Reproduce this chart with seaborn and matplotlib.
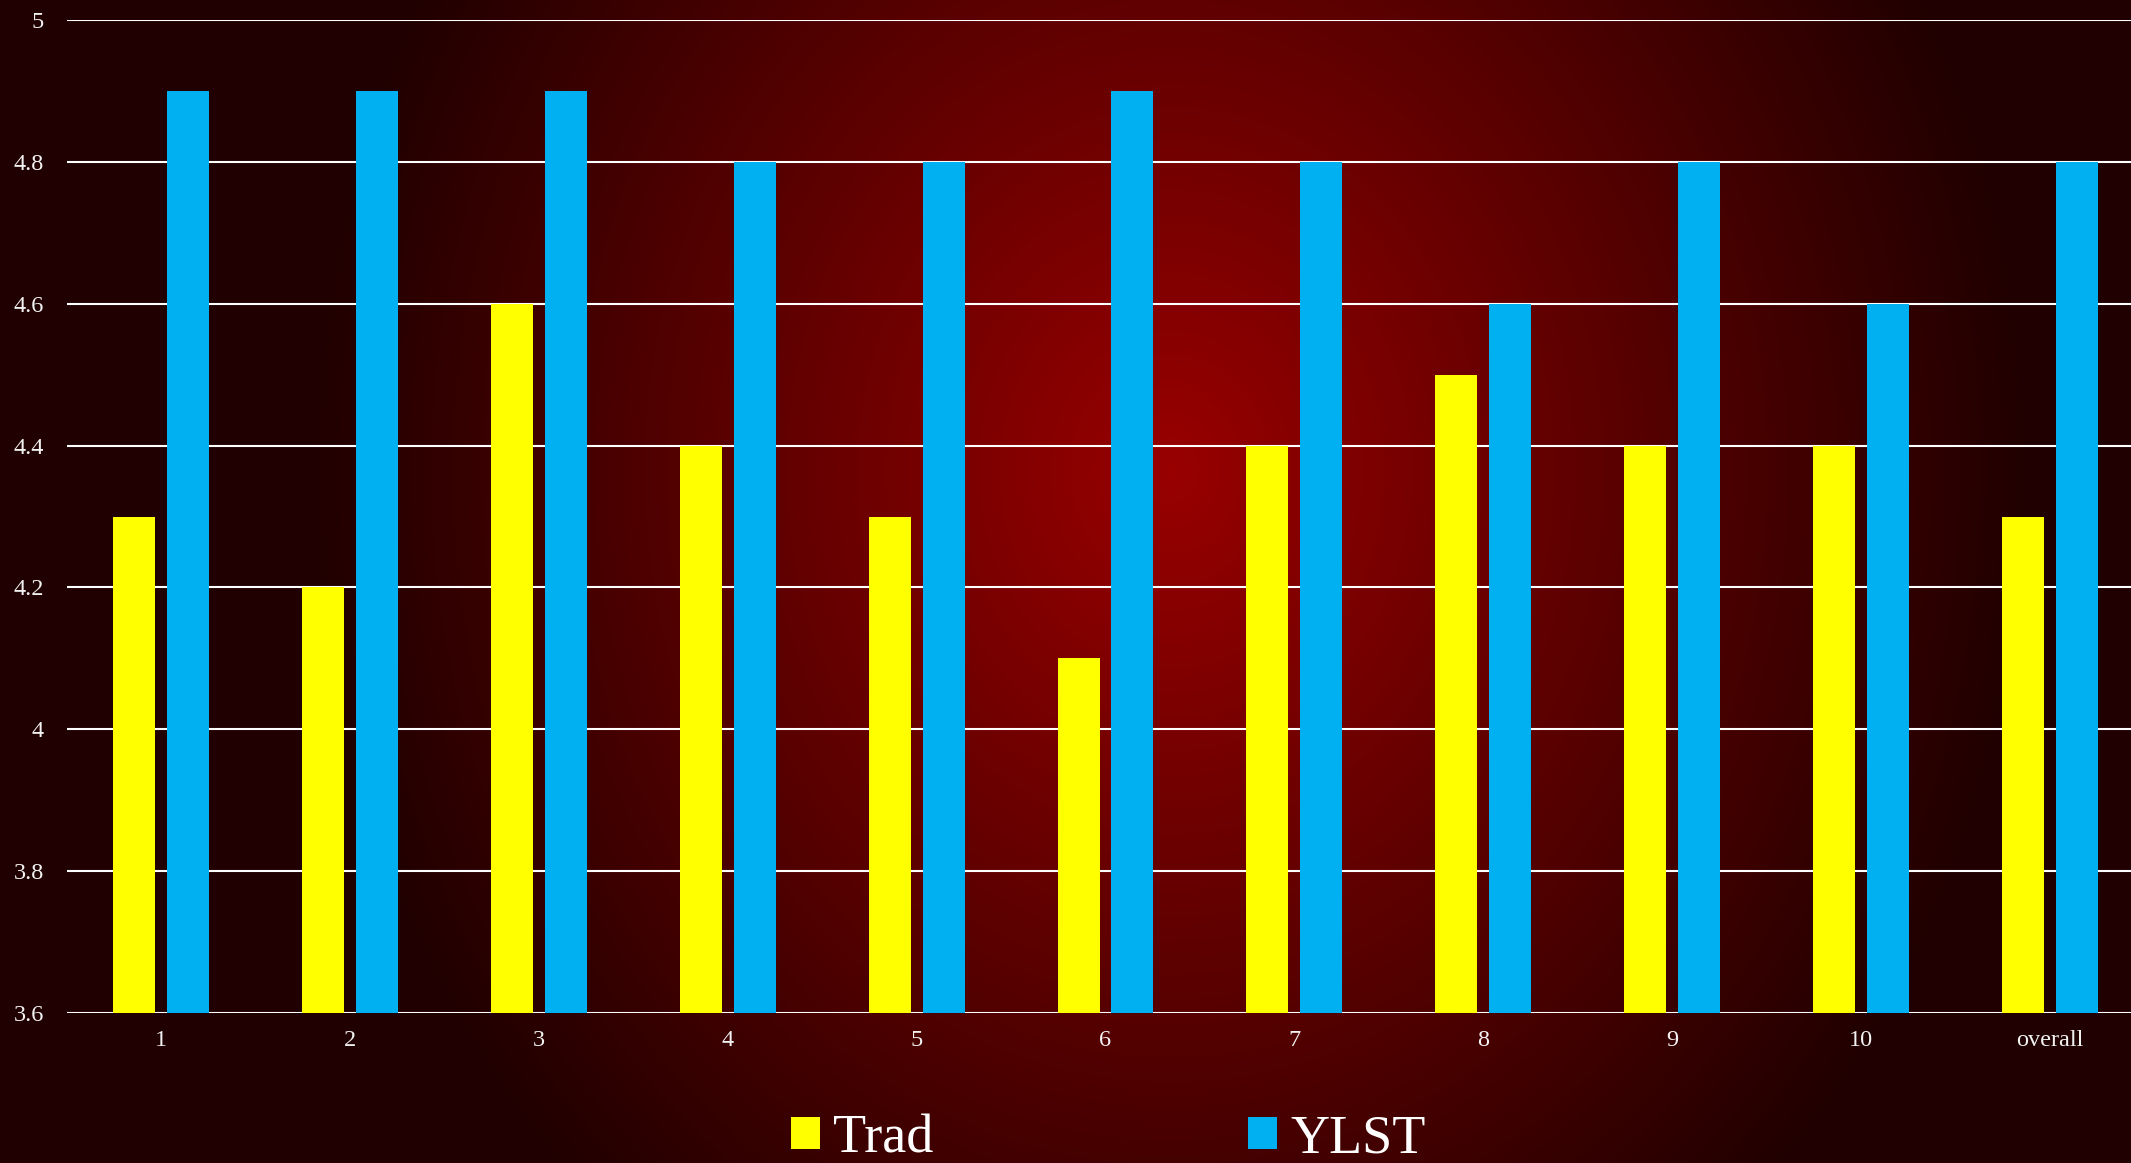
import numpy as np
import pandas as pd
import matplotlib
matplotlib.use("Agg")
import matplotlib.pyplot as plt
from matplotlib.patches import Patch
import seaborn as sns

# Survey scores per session
categories = ["1", "2", "3", "4", "5", "6", "7", "8", "9", "10", "overall"]
trad_scores = [4.3, 4.2, 4.6, 4.4, 4.3, 4.1, 4.4, 4.5, 4.4, 4.4, 4.3]
ylst_scores = [4.9, 4.9, 4.9, 4.8, 4.8, 4.9, 4.8, 4.6, 4.8, 4.6, 4.8]
series_names = ["Trad", "YLST"]
series_colors = ["#FFFF00", "#00B0F0"]
y_ticks = [3.6, 3.8, 4.0, 4.2, 4.4, 4.6, 4.8, 5.0]
y_tick_labels = ["3.6", "3.8", "4", "4.2", "4.4", "4.6", "4.8", "5"]

df = pd.DataFrame({
    "session": categories * 2,
    "score": trad_scores + ylst_scores,
    "group": [series_names[0]] * len(categories) + [series_names[1]] * len(categories),
})

sns.set_theme(style="dark")
plt.rcParams["font.family"] = ["Liberation Serif", "DejaVu Serif"]

W, H = 2131, 1163
fig = plt.figure(figsize=(W / 100, H / 100), dpi=100)

# radial dark-red backdrop
yy, xx = np.mgrid[0:H, 0:W]
cx, cy, ra, rb = 1170.0, 470.0, 860.0, 1000.0
t = np.clip(np.sqrt(((xx - cx) / ra) ** 2 + ((yy - cy) / rb) ** 2), 0, 1)
red = (153 - 121 * t) / 255.0
img = np.dstack([red, np.zeros_like(red), np.zeros_like(red)])
bg = fig.add_axes([0, 0, 1, 1], zorder=-10)
bg.imshow(img, aspect="auto", interpolation="bilinear")
bg.axis("off")

ax = fig.add_axes([67 / W, 1 - 1013 / H, (2144 - 67) / W, (1013 - 20) / H])
ax.patch.set_alpha(0)

sns.barplot(
    data=df, x="session", y="score", hue="group", order=categories,
    hue_order=series_names, palette=series_colors, saturation=1,
    width=0.571, gap=0.222, ax=ax, legend=False,
    edgecolor="none", linewidth=0,
)

ax.set_ylim(3.6, 5.0)
ax.set_xlim(-0.5, len(categories) - 0.5)
ax.set_yticks(y_ticks)
ax.set_yticklabels(y_tick_labels)
ax.set_xlabel("")
ax.set_ylabel("")
ax.yaxis.grid(True, color="white", linewidth=1.5)
ax.xaxis.grid(False)
ax.set_axisbelow(True)
for s in ax.spines.values():
    s.set_visible(False)
ax.tick_params(axis="y", length=0, pad=16.5, labelsize=17.5, labelcolor="#F2F2F2")
ax.tick_params(axis="x", length=0, pad=12.5, labelsize=17.5, labelcolor="#F2F2F2")

handles = [Patch(facecolor=c, edgecolor="none", label=n) for c, n in zip(series_colors, series_names)]
leg = fig.legend(
    handles=handles, loc="center left", bbox_to_anchor=(791 / W, 1 - 1139 / H),
    ncol=2, frameon=False, fontsize=39, handlelength=0.54, handleheight=0.53,
    handletextpad=0.24, columnspacing=5.8, borderpad=0, borderaxespad=0,
)
for txt in leg.get_texts():
    txt.set_color("white")

fig.savefig("out.png", dpi=100)
